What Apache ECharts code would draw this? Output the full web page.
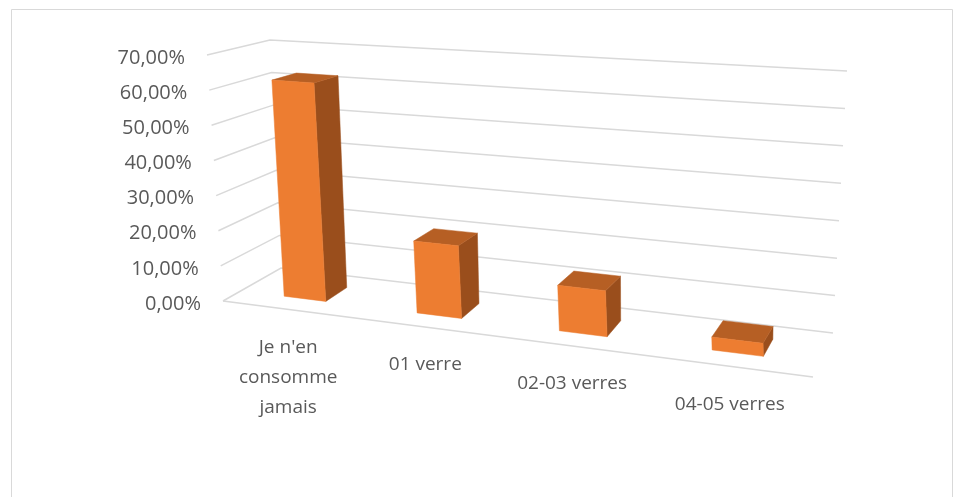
<!DOCTYPE html>
<html><head><meta charset="utf-8">
<script src="https://cdn.jsdelivr.net/npm/echarts@6/dist/echarts.min.js"></script>
<style>html,body{margin:0;padding:0;background:#fff}#c{width:960px;height:497px}</style>
</head><body><div id="c"></div>
<script>
// ---- data ----
const categories = ["Je n'en\nconsomme\njamais", "01 verre", "02-03 verres", "04-05 verres"];
const values = [62.22, 20.00, 12.22, 3.33];
const yTicks = [0, 10, 20, 30, 40, 50, 60, 70];
const yTickLabels = ["0,00%", "10,00%", "20,00%", "30,00%", "40,00%", "50,00%", "60,00%", "70,00%"];

// ---- 3D box layout (screen corners of the plot box) ----
const BOX = {
  FLB: [223, 301], FLT: [207, 55], BLB: [281, 268], BLT: [270, 40],
  FRB: [813, 377], FRT: [798, 94], BRB: [833, 333], BRT: [847, 71]
};
const FONT = "'Open Sans', sans-serif";
const TEXT = '#595959';
const GRID = '#d9d9d9';
const D0 = 0.31, D1 = 0.71, HALF = 0.16, PERSP = 1.15;

function lerp(a, b, k) { return [a[0] + (b[0] - a[0]) * k, a[1] + (b[1] - a[1]) * k]; }
function P(s, t, d) {
  const L = lerp(lerp(BOX.FLB, BOX.BLB, d), lerp(BOX.FLT, BOX.BLT, d), t);
  const R = lerp(lerp(BOX.FRB, BOX.BRB, d), lerp(BOX.FRT, BOX.BRT, d), t);
  return lerp(L, R, s);
}
function warp(s) { return s / (PERSP - (PERSP - 1) * s); }

function renderWall(params, api) {
  const cs = params.coordSys;
  const v = api.value(1);
  const pt = api.coord([0, v]);
  const t = (cs.y + cs.height - pt[1]) / cs.height;
  const a = P(0, t, 0), b = P(0, t, 1), c = P(1, t, 1);
  const children = [{
    type: 'polyline', shape: { points: [a, b, c] },
    style: { stroke: GRID, lineWidth: 1.5, fill: 'none' }
  }];
  if (v === 0) {
    const e = P(1, 0, 0);
    children.push({ type: 'line', shape: { x1: a[0], y1: a[1], x2: e[0], y2: e[1] },
      style: { stroke: GRID, lineWidth: 1.5 } });
  }
  children.push({ type: 'text', x: a[0] - 22, y: a[1] + 3,
    style: { text: yTickLabels[params.dataIndex], align: 'right', verticalAlign: 'middle',
      fontFamily: FONT, fontSize: 20, fill: TEXT } });
  return { type: 'group', children: children };
}

function renderBar(params, api) {
  const cs = params.coordSys;
  const i = api.value(0), v = api.value(1);
  const top = api.coord([i, v]), base = api.coord([i, 0]);
  const band = api.size([1, 0])[0] / cs.width;
  const sc = (top[0] - cs.x) / cs.width;
  const t = (base[1] - top[1]) / cs.height;
  const s0 = warp(sc - HALF * band), s1 = warp(sc + HALF * band);
  const side = [P(s1, 0, D0), P(s1, 0, D1), P(s1, t, D1), P(s1, t, D0)];
  const topF = [P(s0, t, D0), P(s1, t, D0), P(s1, t, D1), P(s0, t, D1)];
  const front = [P(s0, 0, D0), P(s1, 0, D0), P(s1, t, D0), P(s0, t, D0)];
  const lab = P(warp(sc), 0, 0);
  return { type: 'group', children: [
    { type: 'polygon', shape: { points: side }, style: { fill: '#9A4E1C', stroke: '#9A4E1C', lineWidth: 0.5 } },
    { type: 'polygon', shape: { points: topF }, style: { fill: '#B65F24', stroke: '#B65F24', lineWidth: 0.5 } },
    { type: 'polygon', shape: { points: front }, style: { fill: '#ED7D31', stroke: '#ED7D31', lineWidth: 0.5 } },
    { type: 'text', x: lab[0], y: lab[1] + 23,
      style: { text: categories[i], align: 'center', verticalAlign: 'top', lineHeight: 30,
        fontFamily: FONT, fontSize: 19, fill: TEXT } }
  ] };
}

const chart = echarts.init(document.getElementById('c'), null, { renderer: 'canvas' });
chart.setOption({
  animation: false,
  backgroundColor: '#fff',
  grid: { left: 0, right: 0, top: 0, bottom: 0 },
  xAxis: { type: 'category', data: categories, show: false },
  yAxis: { type: 'value', min: 0, max: 70, interval: 10, show: false },
  graphic: [{ type: 'rect', left: 9, top: 7, z: -1,
    shape: { width: 941, height: 500 }, style: { fill: 'none', stroke: GRID, lineWidth: 1 } }],
  series: [
    { type: 'custom', name: 'walls', renderItem: renderWall, z: 1,
      data: yTicks.map(v => [0, v]), silent: true },
    { type: 'custom', name: 'bars', renderItem: renderBar, z: 2,
      data: values.map((v, i) => [i, v]), silent: true }
  ]
});
</script></body></html>
